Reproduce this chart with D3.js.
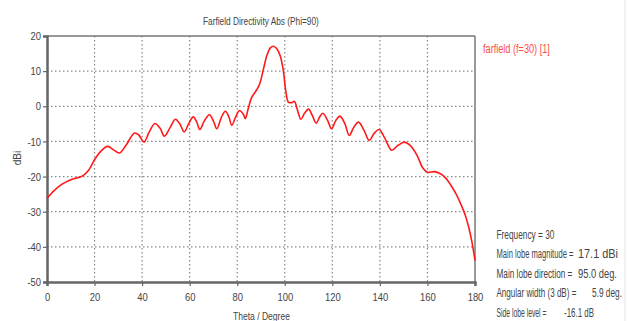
<!DOCTYPE html>
<html>
<head>
    <meta charset="utf-8">
    <title>Farfield Directivity Abs (Phi=90)</title>
    <script src="https://d3js.org/d3.v7.min.js"></script>
    <style>
        body { margin: 0; background: white; }
        text { font-family: "Liberation Sans", Arial, sans-serif; fill: #444; }
    </style>
</head>
<body>
    <svg width="627" height="321"></svg>
    <script>
        // theta (deg) and directivity (dBi)
        const theta = [0, 3, 6, 10, 15, 17.5, 20, 22.5, 25.5, 28, 30.5, 33.5, 36.8, 38.5, 40.8, 43, 45.4, 47.5, 49.4, 51.8,
            54, 56, 57.7, 59.7, 61.5, 63, 64.3, 66.3, 68.3, 70, 71.4, 73.3, 75, 76.5, 77.7, 79.5, 81, 82.5, 83.4, 84.5,
            86, 88.3, 89.5, 91, 92.5, 94, 95.2, 96.5, 98, 99.3, 100.5, 101.5, 102.8, 104, 105.3, 106.8, 108.3, 110, 111.5, 113.2,
            114.7, 116, 118, 119.7, 121.5, 123.2, 125.3, 127.1, 129, 131, 133.3, 135.5, 137.8, 139.7, 142, 145, 147.5, 150.3, 152.5, 155.5,
            158, 160, 163, 165.5, 167.5, 170, 172.3, 174, 175.8, 177.2, 178.6, 180];
        const dbi = [-26.2, -24.0, -22.3, -20.9, -19.8, -18.2, -15.2, -12.9, -11.4, -12.4, -13.3, -10.8, -7.6, -8.1, -10.2, -7.3, -4.9, -6.2, -8.5, -6.0,
            -3.7, -5.2, -7.3, -4.8, -3.0, -4.5, -6.6, -4.0, -2.4, -4.2, -6.4, -3.2, -1.4, -3.0, -5.4, -2.8, -1.2, -2.2, -3.5, -1.0,
            2.4, 4.8, 6.5, 10.5, 14.5, 16.7, 17.1, 16.5, 14.5, 10.5, 4.0, 1.2, 1.0, 1.4, -1.0, -3.7, -2.0, -0.8, -2.5, -4.8,
            -3.0, -2.0, -4.0, -6.4, -4.0, -2.8, -5.0, -8.3, -6.0, -4.5, -6.8, -9.7, -7.5, -6.6, -9.0, -12.5, -11.2, -10.2, -11.0, -13.8,
            -17.5, -18.8, -18.6, -19.2, -20.3, -22.6, -25.3, -27.8, -30.8, -34.0, -38.2, -43.9];

        const xTicks = [0, 20, 40, 60, 80, 100, 120, 140, 160, 180];
        const yTicks = [20, 10, 0, -10, -20, -30, -40, -50];

        const statLabels = ["Frequency = 30", "Main lobe magnitude =", "Main lobe direction =", "Angular width (3 dB) =", "Side lobe level ="];
        const statValues = ["", "17.1 dBi", "95.0 deg.", "5.9 deg.", "-16.1 dB"];

        const svg = d3.select("svg");
        const pLeft = 47, pRight = 475, pTop = 36, pBottom = 282;
        const squeeze = 0.82;   // the original font is narrower

        const x = d3.scaleLinear().domain([0, 180]).range([pLeft, pRight]);
        const y = d3.scaleLinear().domain([-50, 20]).range([pBottom, pTop]);

        // dotted grid
        svg.append("g")
            .selectAll("line")
            .data(xTicks.slice(1, -1))
            .join("line")
            .attr("x1", d => x(d)).attr("x2", d => x(d))
            .attr("y1", pTop).attr("y2", pBottom)
            .attr("stroke", "#888").attr("stroke-width", 1.2)
            .attr("stroke-dasharray", "1.5,2.5");

        svg.append("g")
            .selectAll("line")
            .data(yTicks.slice(1, -1))
            .join("line")
            .attr("x1", pLeft).attr("x2", pRight)
            .attr("y1", d => y(d)).attr("y2", d => y(d))
            .attr("stroke", "#888").attr("stroke-width", 1.2)
            .attr("stroke-dasharray", "1.5,2.5");

        // frame: thin top and right, heavy left and bottom
        svg.append("line").attr("x1", pLeft).attr("x2", pRight).attr("y1", pTop).attr("y2", pTop)
            .attr("stroke", "#777").attr("stroke-width", 1.5);
        svg.append("line").attr("x1", pRight).attr("x2", pRight).attr("y1", pTop).attr("y2", pBottom)
            .attr("stroke", "#777").attr("stroke-width", 1.5);

        const xAxis = svg.append("g")
            .attr("transform", `translate(0,${pBottom})`)
            .call(d3.axisBottom(x).tickValues(xTicks).tickSize(4).tickPadding(7).tickFormat(d => String(d)));
        const yAxis = svg.append("g")
            .attr("transform", `translate(${pLeft},0)`)
            .call(d3.axisLeft(y).tickValues(yTicks).tickSize(4).tickPadding(3).tickFormat(d => String(d)));

        [xAxis, yAxis].forEach(a => {
            a.select(".domain").attr("stroke", "#666").attr("stroke-width", 2.5);
            a.selectAll(".tick line").attr("stroke", "#666").attr("stroke-width", 1.2);
            a.selectAll(".tick text").attr("font-size", 11.5).attr("fill", "#444")
                .style("font-family", "'Liberation Sans', Arial, sans-serif");
        });
        xAxis.selectAll(".tick text").attr("transform", `scale(${squeeze},1)`);
        yAxis.selectAll(".tick text")
            .attr("x", -6 / squeeze)
            .attr("transform", `scale(${squeeze},1)`);

        // curve
        const pts = theta.map((t, i) => [t, dbi[i]]);
        svg.append("path")
            .datum(pts)
            .attr("fill", "none")
            .attr("stroke", "#ff1a1a")
            .attr("stroke-width", 1.6)
            .attr("d", d3.line().x(d => x(d[0])).y(d => y(d[1])).curve(d3.curveCatmullRom.alpha(0.5)));

        // texts, squeezed to the widths seen in the original
        function fitted(str, x0, y0, width, size) {
            const t = svg.append("text")
                .attr("x", 0).attr("y", 0)
                .attr("font-size", size || 11.5)
                .text(str);
            const n = t.node().getComputedTextLength();
            t.attr("transform", `translate(${x0},${y0}) scale(${width / n},1)`);
            return t;
        }

        fitted("Farfield Directivity Abs (Phi=90)", 203, 25, 116);
        fitted("Theta / Degree", 233, 320, 57);
        fitted("farfield (f=30) [1]", 483, 53, 67, 12).style("fill", "#ff4a4a");

        svg.append("text").attr("transform", "translate(21,158) rotate(-90)")
            .attr("text-anchor", "middle").attr("font-size", 10).text("dBi");

        const labelW = [58, 77, 76, 80, 50];
        const valueX = [0, 578, 578, 592, 564];
        const valueW = [0, 40, 39, 30, 30];
        statLabels.forEach((s, i) => fitted(s, 496.5, 238.5 + i * 19.6, labelW[i], 12.5));
        statValues.forEach((s, i) => { if (s) fitted(s, valueX[i], 238.5 + i * 19.6, valueW[i], 12.5); });

        // faint right border of the picture
        svg.append("line").attr("x1", 625).attr("x2", 625).attr("y1", 0).attr("y2", 321)
            .attr("stroke", "#e4e4e4").attr("stroke-width", 1);
    </script>
</body>
</html>
